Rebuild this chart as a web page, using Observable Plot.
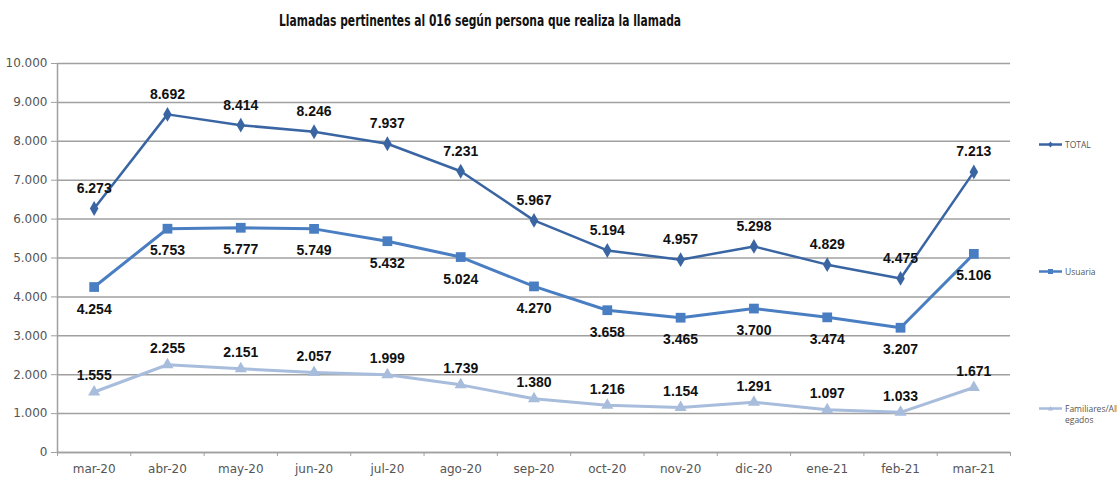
<!DOCTYPE html>
<html><head><meta charset="utf-8">
<script src="https://cdn.jsdelivr.net/npm/d3@7"></script>
<script src="https://cdn.jsdelivr.net/npm/@observablehq/plot@0.6"></script>
<style>
body{margin:0;background:#fff;}
#wrap{position:relative;width:1117px;height:483px;overflow:hidden;}
#title{position:absolute;left:0;width:960px;top:11px;text-align:center;font-family:"DejaVu Sans",sans-serif;font-weight:bold;font-size:16px;color:#111;}
#title span{display:inline-block;transform:scaleX(0.67);}
#chart{position:absolute;left:0;top:40px;}
.leg{position:absolute;left:1038px;font-family:"Open Sans",sans-serif;font-size:8.5px;color:#555;line-height:11px;display:flex;align-items:flex-start;}
.leg svg{margin-right:2px;flex:none;}
</style></head>
<body><div id="wrap">
<div id="title"><span>Llamadas pertinentes al 016 según persona que realiza la llamada</span></div>
<div id="chart"></div>
<div class="leg" style="top:139px"><svg width="25" height="11"><line x1="1" x2="24" y1="5.5" y2="5.5" stroke="#3a65a3" stroke-width="2.5"/><path d="M12.5,2.5L15,5.5L12.5,8.5L10,5.5Z" fill="#3a65a3"/></svg><span>TOTAL</span></div>
<div class="leg" style="top:266px"><svg width="25" height="11"><line x1="1" x2="24" y1="5.5" y2="5.5" stroke="#4a7ec2" stroke-width="2.5"/><rect x="10" y="3" width="5" height="5" fill="#4a7ec2"/></svg><span>Usuaria</span></div>
<div class="leg" style="top:403px"><svg width="25" height="11"><line x1="1" x2="24" y1="5.5" y2="5.5" stroke="#a8bcdc" stroke-width="2.5"/><path d="M12.5,3L15,7.5L10,7.5Z" fill="#a8bcdc"/></svg><span>Familiares/All<br>egados</span></div>
</div>
<script>
const months = ["mar-20","abr-20","may-20","jun-20","jul-20","ago-20","sep-20","oct-20","nov-20","dic-20","ene-21","feb-21","mar-21"];
const total = [6273,8692,8414,8246,7937,7231,5967,5194,4957,5298,4829,4475,7213];
const usuaria = [4254,5753,5777,5749,5432,5024,4270,3658,3465,3700,3474,3207,5106];
const familiares = [1555,2255,2151,2057,1999,1739,1380,1216,1154,1291,1097,1033,1671];
const yTicks = [0,1000,2000,3000,4000,5000,6000,7000,8000,9000,10000];

const fmt = d3.formatLocale({decimal:",",thousands:".",grouping:[3],currency:["","€"]}).format(",d");
const FONT = "DejaVu Sans, sans-serif";
const LFONT = "Liberation Sans, Arial, sans-serif";
const series = [
  {name:"TOTAL", values: total, color:"#3a65a3", symbol:"diamond", r:4.5, sw:2.5, dy:-20},
  {name:"Usuaria", values: usuaria, color:"#4a7ec2", symbol:"square", r:5.5, sw:3, dy:22},
  {name:"Familiares/Allegados", values: familiares, color:"#a8bcdc", symbol:"triangle", r:4.5, sw:3, dy:-16}
];
const rows = series.flatMap(s => s.values.map((v,i) => ({serie:s.name, i, v})));
const marks = [
  Plot.gridY(yTicks, {stroke:"#a0a0a0", strokeOpacity:1, strokeWidth:1.5, x1:-0.5, x2:12.5}),
  Plot.axisY(yTicks, {tickFormat: fmt, tickSize:6, stroke:"#a0a0a0", tickPadding:4, fontSize:12, fill:"#555", fontFamily:FONT, label:null}),
  Plot.ruleX([-0.5], {stroke:"#a0a0a0", strokeWidth:1.5}),
  Plot.ruleY([0], {stroke:"#a0a0a0", strokeWidth:1.5}),
  Plot.axisX(d3.range(0,14).map(k => k-0.5), {tickSize:4, tickFormat:()=>"", stroke:"#a0a0a0", label:null}),
  Plot.axisX(d3.range(0,13), {tickSize:0, tickPadding:12, tickFormat:i=>months[i], fill:"#555", fontSize:12, fontFamily:FONT, label:null})
];
for (const s of series) {
  const data = rows.filter(r => r.serie === s.name);
  marks.push(Plot.line(data, {x:"i", y:"v", stroke:s.color, strokeWidth:s.sw}));
  marks.push(Plot.dot(data, {x:"i", y:"v", symbol:s.symbol, fill:s.color, r:s.r, stroke:null}));
}
for (const s of series) {
  const data = rows.filter(r => r.serie === s.name);
  marks.push(Plot.text(data, {x:"i", y:"v", text:d=>fmt(d.v), dy:s.dy, fontWeight:"bold", fontSize:14, fill:"#111", fontFamily:LFONT}));
}
const chart = Plot.plot({
  width:1117, height:443,
  marginLeft:57, marginRight:107, marginTop:23, marginBottom:31,
  x:{type:"linear", domain:[-0.5,12.5], axis:null},
  y:{domain:[0,10000], axis:null},
  style:{background:"#fff", overflow:"visible"},
  marks
});
document.getElementById("chart").appendChild(chart);
</script>
</body></html>
